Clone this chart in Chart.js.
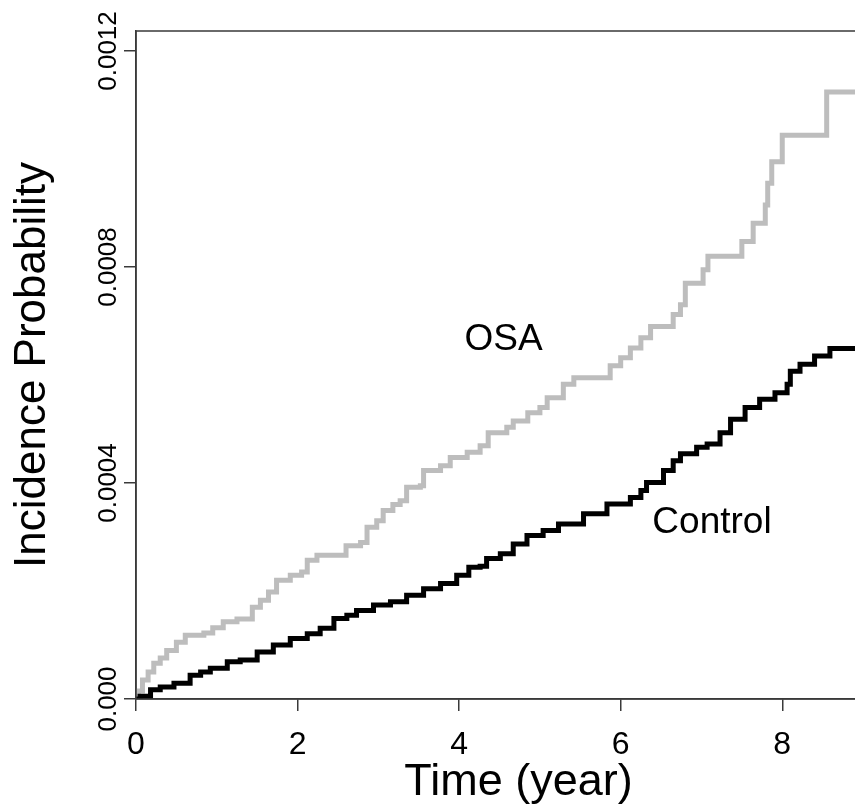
<!DOCTYPE html>
<html>
<head>
<meta charset="utf-8">
<script src="https://cdn.jsdelivr.net/npm/chart.js@4/dist/chart.umd.min.js"></script>
<style>
  html, body { margin: 0; padding: 0; background: #fff; overflow: hidden; }
  /* the original figure is cropped on the right, so the canvas is a bit wider than the window */
  #wrap { position: relative; width: 905px; height: 810px; }
</style>
</head>
<body>
<div id="wrap"><canvas id="incidence-chart"></canvas></div>
<script>
// Cumulative incidence (step function), time in years
const osaTime = [0, 0.03, 0.08, 0.15, 0.22, 0.30, 0.38, 0.50, 0.61, 0.84, 0.95, 1.08, 1.25, 1.44, 1.54, 1.64,
  1.74, 1.91, 2.05, 2.12, 2.24, 2.60, 2.78, 2.86, 2.98, 3.06, 3.18, 3.27, 3.35, 3.52, 3.56, 3.77, 3.89,
  4.10, 4.26, 4.36, 4.59, 4.67, 4.85, 5.00, 5.09, 5.29, 5.42, 5.87, 6.00, 6.12, 6.25, 6.37, 6.65, 6.74,
  6.80, 7.02, 7.08, 7.50, 7.64, 7.79, 7.82, 7.87, 8.00, 8.55, 9.47];
const osaRisk = [0, 1.5e-5, 3.5e-5, 5.0e-5, 6.6e-5, 7.6e-5, 9.0e-5, 1.05e-4, 1.18e-4, 1.22e-4, 1.32e-4, 1.43e-4,
  1.48e-4, 1.70e-4, 1.83e-4, 1.98e-4, 2.20e-4, 2.29e-4, 2.35e-4, 2.57e-4, 2.66e-4, 2.84e-4, 2.90e-4,
  3.18e-4, 3.30e-4, 3.49e-4, 3.60e-4, 3.67e-4, 3.92e-4, 3.95e-4, 4.23e-4, 4.32e-4, 4.47e-4, 4.57e-4,
  4.69e-4, 4.93e-4, 5.03e-4, 5.15e-4, 5.30e-4, 5.40e-4, 5.58e-4, 5.83e-4, 5.95e-4, 6.17e-4, 6.32e-4,
  6.50e-4, 6.69e-4, 6.90e-4, 7.12e-4, 7.30e-4, 7.70e-4, 7.95e-4, 8.20e-4, 8.47e-4, 8.81e-4, 9.15e-4,
  9.55e-4, 9.95e-4, 1.044e-3, 1.124e-3, 1.124e-3];

const controlTime = [0, 0.05, 0.18, 0.30, 0.47, 0.67, 0.80, 0.92, 1.13, 1.29, 1.50, 1.70, 1.91, 2.12, 2.28,
  2.45, 2.61, 2.73, 2.94, 3.15, 3.35, 3.56, 3.77, 3.97, 4.12, 4.26, 4.34, 4.51, 4.67, 4.84, 5.04, 5.23,
  5.54, 5.83, 6.12, 6.25, 6.32, 6.53, 6.65, 6.74, 6.94, 7.07, 7.23, 7.36, 7.54, 7.72, 7.91, 8.06, 8.10,
  8.22, 8.40, 8.59, 9.47];
const controlRisk = [0, 5e-6, 1.7e-5, 2.2e-5, 2.9e-5, 4.4e-5, 5.0e-5, 5.7e-5, 6.9e-5, 7.2e-5, 8.7e-5, 1.00e-4,
  1.12e-4, 1.21e-4, 1.31e-4, 1.49e-4, 1.55e-4, 1.64e-4, 1.74e-4, 1.80e-4, 1.92e-4, 2.04e-4, 2.14e-4,
  2.29e-4, 2.44e-4, 2.46e-4, 2.60e-4, 2.69e-4, 2.87e-4, 3.03e-4, 3.12e-4, 3.24e-4, 3.43e-4, 3.61e-4,
  3.73e-4, 3.86e-4, 4.01e-4, 4.23e-4, 4.41e-4, 4.54e-4, 4.66e-4, 4.72e-4, 4.93e-4, 5.18e-4, 5.40e-4,
  5.55e-4, 5.67e-4, 5.83e-4, 6.07e-4, 6.20e-4, 6.35e-4, 6.49e-4, 6.49e-4];

const xTicks = [0, 2, 4, 6, 8];
const yTicks = [0, 0.0004, 0.0008, 0.0012];
const yTickLabels = ['0.000', '0.0004', '0.0008', '0.0012'];

// curve labels, placed in data coordinates
const curveLabels = [
  { text: 'OSA', x: 4.55, y: 6.65e-4 },
  { text: 'Control', x: 7.13, y: 3.26e-4 }
];

const FONT = '"Liberation Sans", Arial, Helvetica, sans-serif';
const AXIS_COLOR = '#3a3a3a';

function toPoints(times, values) {
  return times.map((t, i) => ({ x: t, y: values[i] }));
}

// box around the plot + rotated y tick labels + curve labels
const plotExtras = {
  id: 'plotExtras',
  afterDraw(chart) {
    const { ctx, chartArea, scales } = chart;
    const yScale = scales.y;
    const xScale = scales.x;

    ctx.save();
    ctx.strokeStyle = AXIS_COLOR;
    ctx.lineWidth = 1.5;
    ctx.strokeRect(chartArea.left, chartArea.top, chartArea.right - chartArea.left, chartArea.bottom - chartArea.top);

    // y tick labels, rotated like R's default las = 0
    ctx.fillStyle = '#000';
    ctx.font = '26px ' + FONT;
    ctx.textAlign = 'center';
    ctx.textBaseline = 'middle';
    yScale.ticks.forEach((tick, i) => {
      const py = yScale.getPixelForValue(tick.value);
      ctx.save();
      ctx.translate(109, py);
      ctx.rotate(-Math.PI / 2);
      ctx.fillText(yTickLabels[i], 0, 0);
      ctx.restore();
    });

    ctx.font = '37px ' + FONT;
    curveLabels.forEach(lbl => {
      ctx.fillText(lbl.text, xScale.getPixelForValue(lbl.x), yScale.getPixelForValue(lbl.y));
    });
    ctx.restore();
  }
};

new Chart(document.getElementById('incidence-chart'), {
  type: 'line',
  data: {
    datasets: [
      {
        label: 'Control',
        data: toPoints(controlTime, controlRisk),
        borderColor: '#000000',
        borderWidth: 5,
        stepped: 'before',
        pointRadius: 0,
        fill: false
      },
      {
        label: 'OSA',
        data: toPoints(osaTime, osaRisk),
        borderColor: '#bdbdbd',
        borderWidth: 5,
        stepped: 'before',
        pointRadius: 0,
        fill: false
      }
    ]
  },
  options: {
    responsive: true,
    maintainAspectRatio: false,
    animation: false,
    layout: { padding: { top: 31, right: 4, left: 0, bottom: 0 } },
    plugins: {
      legend: { display: false },
      tooltip: { enabled: false }
    },
    scales: {
      x: {
        type: 'linear',
        min: 0,
        max: 9.47,
        afterBuildTicks: scale => { scale.ticks = xTicks.map(v => ({ value: v })); },
        afterFit: scale => { scale.height = 111; },
        ticks: {
          color: '#000',
          padding: 15,
          font: { family: FONT, size: 32 },
          callback: v => String(v)
        },
        grid: {
          drawOnChartArea: false,
          drawTicks: true,
          tickLength: 12,
          color: AXIS_COLOR,
          lineWidth: 1.5
        },
        border: { display: true, color: AXIS_COLOR, width: 1.5 },
        title: {
          display: true,
          text: 'Time (year)',
          color: '#000',
          font: { family: FONT, size: 45 },
          padding: { top: 0, bottom: 0 }
        }
      },
      y: {
        type: 'linear',
        min: 0,
        max: 0.001237,
        afterBuildTicks: scale => { scale.ticks = yTicks.map(v => ({ value: v })); },
        afterFit: scale => { scale.width = 136; },
        ticks: { display: false },
        grid: {
          drawOnChartArea: false,
          drawTicks: true,
          tickLength: 12,
          color: AXIS_COLOR,
          lineWidth: 1.5
        },
        border: { display: true, color: AXIS_COLOR, width: 1.5 },
        title: {
          display: true,
          text: 'Incidence Probability',
          color: '#000',
          font: { family: FONT, size: 44 },
          padding: { top: 6, bottom: 0 }
        }
      }
    }
  },
  plugins: [plotExtras]
});
</script>
</body>
</html>
